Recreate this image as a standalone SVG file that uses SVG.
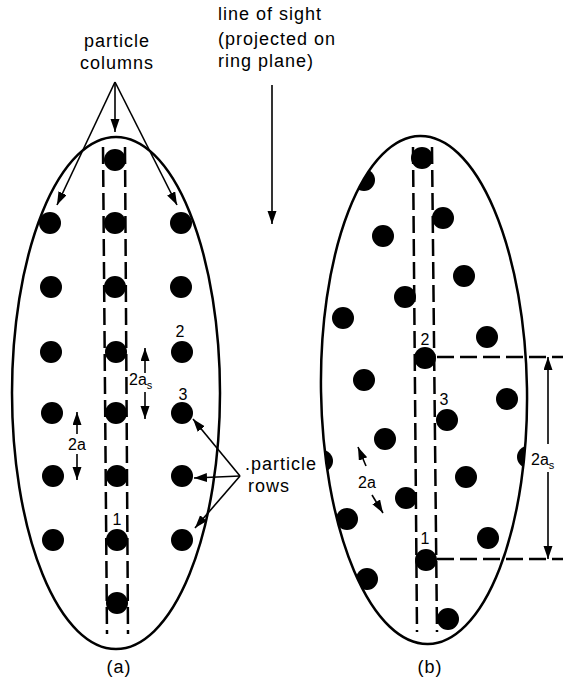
<svg xmlns="http://www.w3.org/2000/svg" width="563" height="678" viewBox="0 0 563 678">
<style>
.t{font-family:"Liberation Sans",Arial,sans-serif;font-size:18px;letter-spacing:1px;fill:#000}
.n{font-family:"Liberation Sans",Arial,sans-serif;font-size:16px;fill:#000}
.ell{fill:none;stroke:#000;stroke-width:2.5}
.dash{stroke:#000;stroke-width:2.5;stroke-dasharray:17 6;fill:none}
.ar{stroke:#000;stroke-width:1.6;fill:none;marker-end:url(#ah)}
.dot{fill:#000}
</style>
<defs>
<marker id="ah" markerUnits="userSpaceOnUse" markerWidth="14" markerHeight="10" refX="13" refY="4.5" orient="auto">
<path d="M0,0 L13,4.5 L0,9 z" fill="#000"/>
</marker>
<clipPath id="cb"><ellipse cx="424" cy="390" rx="103" ry="254" transform="rotate(-0.9 424 390)"/></clipPath>
</defs>

<g id="title-texts">
<text class="t" x="117" y="47" text-anchor="middle">particle</text>
<text class="t" x="117" y="69" text-anchor="middle">columns</text>
<text class="t" x="218" y="20">line of sight</text>
<text class="t" x="218" y="45">(projected on</text>
<text class="t" x="218" y="67">ring plane)</text>
</g>

<g id="panel-a">
<ellipse class="ell" cx="116" cy="393" rx="104" ry="256"/>
<g id="dots-a">
<circle class="dot" cx="115" cy="160" r="11"/>
<circle class="dot" cx="50" cy="223" r="11"/><circle class="dot" cx="115" cy="223" r="11"/><circle class="dot" cx="181" cy="223" r="11"/>
<circle class="dot" cx="51" cy="287" r="11"/><circle class="dot" cx="115" cy="287" r="11"/><circle class="dot" cx="181" cy="287" r="11"/>
<circle class="dot" cx="51" cy="352" r="11"/><circle class="dot" cx="116" cy="352" r="11"/><circle class="dot" cx="182" cy="352" r="11"/>
<circle class="dot" cx="52" cy="413" r="11"/><circle class="dot" cx="116" cy="413" r="11"/><circle class="dot" cx="182" cy="413" r="11"/>
<circle class="dot" cx="53" cy="476" r="11"/><circle class="dot" cx="117" cy="476" r="11"/><circle class="dot" cx="182" cy="476" r="11"/>
<circle class="dot" cx="53" cy="540" r="11"/><circle class="dot" cx="117" cy="540" r="11"/><circle class="dot" cx="182" cy="540" r="11"/>
<circle class="dot" cx="117" cy="603" r="11"/>
</g>
<line class="dash" x1="103" y1="147" x2="107" y2="634"/>
<line class="dash" x1="125" y1="147" x2="128" y2="634"/>
<text class="n" x="180" y="337" text-anchor="middle">2</text>
<text class="n" x="183" y="400" text-anchor="middle">3</text>
<text class="n" x="117" y="525" text-anchor="middle">1</text>
<text class="n" x="129" y="385">2a<tspan font-size="11" dy="4">s</tspan></text>
<text class="n" x="68" y="450">2a</text>
<text class="t" x="119" y="673" text-anchor="middle" letter-spacing="3">(a)</text>
</g>

<g id="panel-b">
<ellipse class="ell" cx="424" cy="390" rx="103" ry="254" transform="rotate(-0.9 424 390)"/>
<g id="dots-b" clip-path="url(#cb)">
<circle class="dot" cx="422" cy="158" r="11"/>
<circle class="dot" cx="364" cy="180" r="11"/>
<circle class="dot" cx="443" cy="218" r="11"/>
<circle class="dot" cx="383" cy="236" r="11"/>
<circle class="dot" cx="464" cy="276" r="11"/>
<circle class="dot" cx="405" cy="297" r="11"/>
<circle class="dot" cx="343" cy="318" r="11"/>
<circle class="dot" cx="487" cy="337" r="11"/>
<circle class="dot" cx="425" cy="358" r="11"/>
<circle class="dot" cx="364" cy="380" r="11"/>
<circle class="dot" cx="507" cy="399" r="11"/>
<circle class="dot" cx="447" cy="420" r="11"/>
<circle class="dot" cx="385" cy="439" r="11"/>
<circle class="dot" cx="528" cy="457" r="11"/>
<circle class="dot" cx="322" cy="461" r="11"/>
<circle class="dot" cx="466" cy="477" r="11"/>
<circle class="dot" cx="406" cy="498" r="11"/>
<circle class="dot" cx="347" cy="519" r="11"/>
<circle class="dot" cx="488" cy="538" r="11"/>
<circle class="dot" cx="426" cy="560" r="11"/>
<circle class="dot" cx="367" cy="579" r="11"/>
<circle class="dot" cx="448" cy="619" r="11"/>
</g>
<line class="dash" x1="413" y1="147" x2="417" y2="632"/>
<line class="dash" x1="432" y1="147" x2="437" y2="632"/>
<line class="dash" x1="437" y1="357" x2="563" y2="357" stroke-width="1.8" stroke-dasharray="14 6"/>
<line class="dash" x1="437" y1="559" x2="563" y2="559" stroke-width="1.8" stroke-dasharray="14 6"/>
<text class="n" x="425" y="345" text-anchor="middle">2</text>
<text class="n" x="444" y="405" text-anchor="middle">3</text>
<text class="n" x="425" y="544" text-anchor="middle">1</text>
<text class="n" x="531" y="465">2a<tspan font-size="11" dy="4">s</tspan></text>
<text class="n" x="358" y="488">2a</text>
<text class="t" x="430" y="673" text-anchor="middle" letter-spacing="3">(b)</text>
</g>

<g id="connectors">
<line class="ar" x1="115" y1="82" x2="115" y2="132"/>
<line class="ar" x1="115" y1="82" x2="57" y2="205"/>
<line class="ar" x1="115" y1="82" x2="177" y2="205"/>
<line class="ar" x1="272" y1="85" x2="272" y2="224"/>
<line class="ar" x1="145" y1="373" x2="145" y2="348"/>
<line class="ar" x1="145" y1="392" x2="145" y2="419"/>
<line class="ar" x1="77" y1="434" x2="77" y2="412"/>
<line class="ar" x1="77" y1="454" x2="77" y2="480"/>
<line class="ar" x1="240" y1="476" x2="193" y2="419"/>
<line class="ar" x1="240" y1="476" x2="194" y2="478"/>
<line class="ar" x1="240" y1="476" x2="195" y2="528"/>
<line class="ar" x1="548" y1="444" x2="548" y2="357"/>
<line class="ar" x1="548" y1="472" x2="548" y2="559"/>
<line class="ar" x1="366" y1="466" x2="358" y2="447"/>
<line class="ar" x1="372" y1="495" x2="383" y2="513"/>
</g>
<g id="rows-label">
<text class="t" x="245" y="470" font-size="17">.particle</text>
<text class="t" x="248" y="492" font-size="17">rows</text>
</g>
</svg>
